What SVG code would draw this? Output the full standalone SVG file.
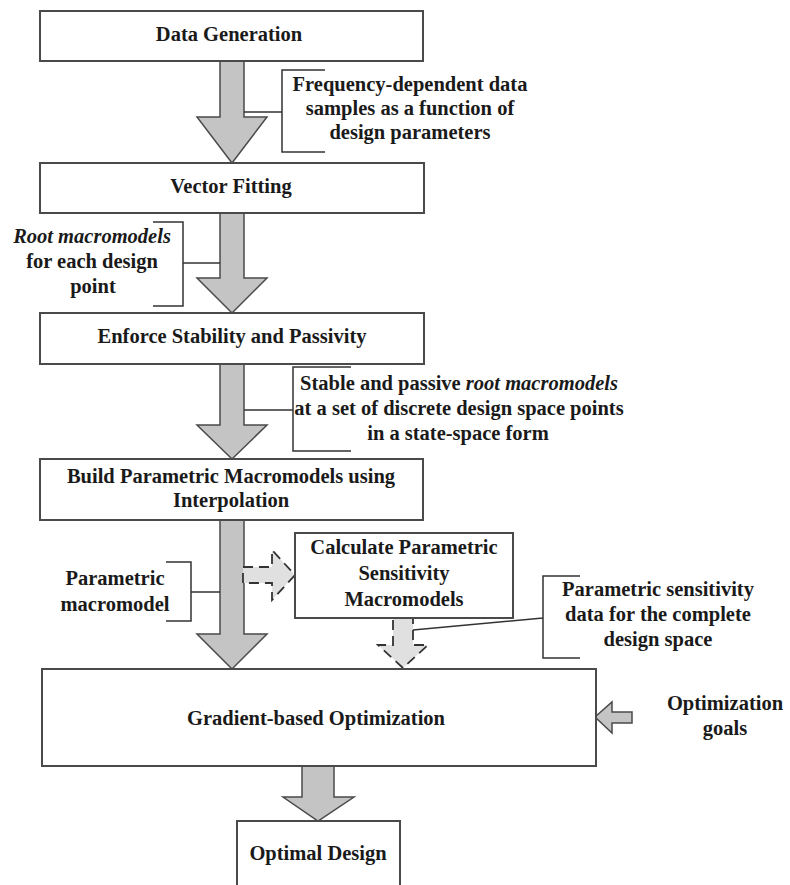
<svg xmlns="http://www.w3.org/2000/svg" width="790" height="885" viewBox="0 0 790 885">
<style>
.box{fill:#fff;stroke:#4a4a4a;stroke-width:2}
.t{font-family:"Liberation Serif","Times New Roman",serif;font-weight:bold;font-size:20.5px;fill:#1a1a1a;text-anchor:middle}
.i{font-style:italic}
.arr{fill:#c4c4c4;stroke:#4a4a4a;stroke-width:1.5;stroke-linejoin:miter}
.darr{fill:#e0e0e0;stroke:#333;stroke-width:1.8;stroke-dasharray:10 6}
.br{fill:none;stroke:#333;stroke-width:1.5}
</style>
<rect width="790" height="885" fill="#fff"/>
<g id="connectors">
<polygon class="arr" points="220,61 244,61 244,117 267,117 232,163 197,117 220,117"/>
<polygon class="arr" points="220,213 244,213 244,278 267,278 232,313 197,278 220,278"/>
<polygon class="arr" points="220,364 244,364 244,425 267,425 232,459 197,425 220,425"/>
<polygon class="arr" points="220,520 244,520 244,634 267,634 232,669 197,634 220,634"/>
<polygon class="darr" points="243,567 272,567 272,550 295,575 272,600 272,583 243,583"/>
<polygon class="darr" points="393,618 413,618 413,645 428,645 403,668 378,645 393,645"/>
<polygon class="arr" points="302,766 334,766 334,797 354,797 318,821 283,797 302,797"/>
<polygon class="arr" points="632,712 632,723 612,723 612,733 595,717 612,702 612,712"/>
<path class="br" d="M325,70 H282 V152 H325 M244,112 H282"/>
<path class="br" d="M153,222 H183 V306 H153 M183,263 H220"/>
<path class="br" d="M351,367 H293 V451 H351 M244,410 H293"/>
<path class="br" d="M580,576 H543 V658 H580 M543,618 L413,630"/>
<path class="br" d="M166,562 H191 V621 H166 M191,592 H220"/>
</g>
<g id="data-generation">
<rect class="box" x="40" y="11" width="383" height="50"/>
<text class="t" x="229" y="41">Data Generation</text>
</g>
<g id="label-frequency">
<text class="t" x="410" y="91">Frequency-dependent data</text>
<text class="t" x="410" y="115">samples as a function of</text>
<text class="t" x="410" y="139">design parameters</text>
</g>
<g id="vector-fitting">
<rect class="box" x="40" y="163" width="384" height="50"/>
<text class="t" x="231" y="193">Vector Fitting</text>
</g>
<g id="label-root">
<text class="t" x="92" y="243"><tspan class="i">Root macromodels</tspan></text>
<text class="t" x="92" y="268">for each design</text>
<text class="t" x="93" y="293">point</text>
</g>
<g id="enforce">
<rect class="box" x="40" y="313" width="384" height="51"/>
<text class="t" x="232" y="343">Enforce Stability and Passivity</text>
</g>
<g id="label-stable">
<text class="t" x="459" y="390">Stable and passive <tspan class="i">root macromodels</tspan></text>
<text class="t" x="459" y="415">at a set of discrete design space points</text>
<text class="t" x="458" y="440">in a state-space form</text>
</g>
<g id="build">
<rect class="box" x="40" y="459" width="383" height="61"/>
<text class="t" x="231" y="483">Build Parametric Macromodels using</text>
<text class="t" x="231" y="507">Interpolation</text>
</g>
<g id="label-parametric">
<text class="t" x="115" y="585">Parametric</text>
<text class="t" x="115" y="611">macromodel</text>
</g>
<g id="calculate">
<rect class="box" x="295" y="533" width="218" height="85"/>
<text class="t" x="404" y="554">Calculate Parametric</text>
<text class="t" x="404" y="580">Sensitivity</text>
<text class="t" x="404" y="606">Macromodels</text>
</g>
<g id="label-sensitivity">
<text class="t" x="658" y="596">Parametric sensitivity</text>
<text class="t" x="658" y="621">data for the complete</text>
<text class="t" x="658" y="646">design space</text>
</g>
<g id="gradient">
<rect class="box" x="42" y="669" width="554" height="97"/>
<text class="t" x="316" y="725">Gradient-based Optimization</text>
</g>
<g id="label-goals">
<text class="t" x="725" y="710">Optimization</text>
<text class="t" x="725" y="735">goals</text>
</g>
<g id="optimal">
<path class="box" d="M237,890 V821 H400 V890"/>
<text class="t" x="318" y="860">Optimal Design</text>
</g>
</svg>
